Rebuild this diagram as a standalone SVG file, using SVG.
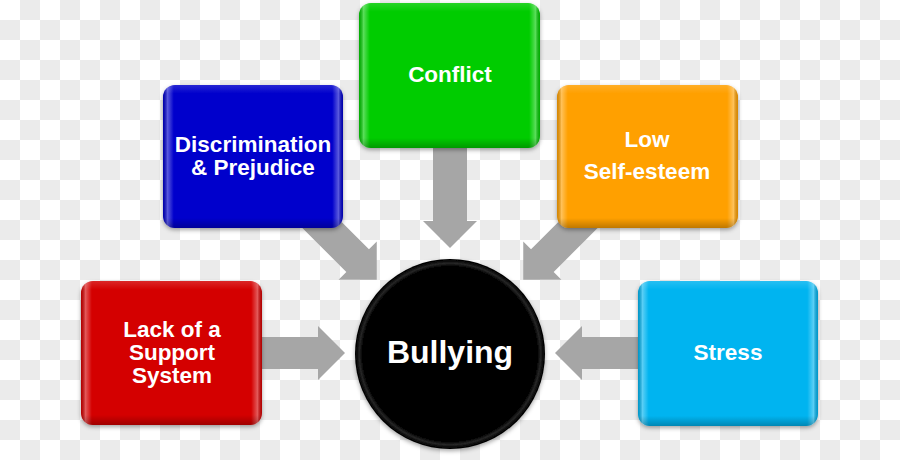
<svg xmlns="http://www.w3.org/2000/svg" width="900" height="460" viewBox="0 0 900 460">
<defs>
<pattern id="checker" x="0" y="0" width="40" height="40" patternUnits="userSpaceOnUse">
<rect width="40" height="40" fill="#ffffff"/>
<rect x="20" y="0" width="20" height="20" fill="#ebebeb"/>
<rect x="0" y="20" width="20" height="20" fill="#ebebeb"/>
</pattern>
<linearGradient id="bevel" x1="0" y1="0" x2="1" y2="0">
<stop offset="0" stop-color="#000" stop-opacity="0.15"/>
<stop offset="0.025" stop-color="#fff" stop-opacity="0.35"/>
<stop offset="0.06" stop-color="#fff" stop-opacity="0"/>
<stop offset="0.94" stop-color="#fff" stop-opacity="0"/>
<stop offset="0.975" stop-color="#fff" stop-opacity="0.35"/>
<stop offset="1" stop-color="#000" stop-opacity="0.15"/>
</linearGradient>
<linearGradient id="vbevel" x1="0" y1="0" x2="0" y2="1">
<stop offset="0" stop-color="#fff" stop-opacity="0.15"/>
<stop offset="0.06" stop-color="#fff" stop-opacity="0"/>
<stop offset="0.93" stop-color="#000" stop-opacity="0"/>
<stop offset="1" stop-color="#000" stop-opacity="0.25"/>
</linearGradient>
<radialGradient id="ball" cx="0.5" cy="0.5" r="0.5">
<stop offset="0.92" stop-color="#000"/>
<stop offset="0.955" stop-color="#262626"/>
<stop offset="0.98" stop-color="#0a0a0a"/>
<stop offset="1" stop-color="#000"/>
</radialGradient>
<filter id="shadow" x="-10%" y="-10%" width="120%" height="125%">
<feDropShadow dx="0" dy="2" stdDeviation="2" flood-color="#000" flood-opacity="0.35"/>
</filter>
</defs>
<style>
.arrow { fill: #a6a6a6; }
.box { filter: url(#shadow); }
.bev { fill: url(#bevel); }
.vbev { fill: url(#vbevel); }
.lbl { font-family: "Liberation Sans", Arial, sans-serif; font-weight: bold; font-size: 22.5px; fill: #ffffff; text-anchor: middle; }
.big { font-size: 32px; }
</style>
<rect width="900" height="460" fill="url(#checker)"/>
<g id="connectors">
<path class="arrow" d="M171,337 H318 V326 L345,353 L318,380 V369 H171 Z"/>
<path class="arrow" d="M728,337 H582 V326 L555,353 L582,380 V369 H728 Z"/>
<path class="arrow" d="M433,75 V221 H423 L450,248 L477,221 H467 V75 Z"/>
<path class="arrow" transform="translate(253,156) rotate(45)" d="M0,-16 H148 V-27 L175,0 L148,27 V16 H0 Z"/>
<path class="arrow" transform="translate(647,156) rotate(135)" d="M0,-16 H148 V-27 L175,0 L148,27 V16 H0 Z"/>
</g>
<g id="node-discrimination">
<g class="box"><rect x="163" y="85" width="180" height="143" rx="12" fill="#0505cc"/></g>
<rect x="163" y="85" width="180" height="143" rx="12" class="bev"/>
<rect x="163" y="85" width="180" height="143" rx="12" class="vbev"/>
<text class="lbl" x="253" y="152">Discrimination</text>
<text class="lbl" x="253" y="175">&amp; Prejudice</text>
</g>
<g id="node-conflict">
<g class="box"><rect x="359" y="3" width="181" height="145" rx="12" fill="#00cc00"/></g>
<rect x="359" y="3" width="181" height="145" rx="12" class="bev"/>
<rect x="359" y="3" width="181" height="145" rx="12" class="vbev"/>
<text class="lbl" x="450" y="82">Conflict</text>
</g>
<g id="node-self-esteem">
<g class="box"><rect x="557" y="85" width="181" height="143" rx="12" fill="#ffa000"/></g>
<rect x="557" y="85" width="181" height="143" rx="12" class="bev"/>
<rect x="557" y="85" width="181" height="143" rx="12" class="vbev"/>
<text class="lbl" x="647" y="147">Low</text>
<text class="lbl" x="647" y="179">Self-esteem</text>
</g>
<g id="node-support">
<g class="box"><rect x="81" y="281" width="181" height="144" rx="12" fill="#d40000"/></g>
<rect x="81" y="281" width="181" height="144" rx="12" class="bev"/>
<rect x="81" y="281" width="181" height="144" rx="12" class="vbev"/>
<text class="lbl" x="172" y="337">Lack of a</text>
<text class="lbl" x="172" y="360">Support</text>
<text class="lbl" x="172" y="383">System</text>
</g>
<g id="node-stress">
<g class="box"><rect x="638" y="281" width="180" height="145" rx="12" fill="#00b4f0"/></g>
<rect x="638" y="281" width="180" height="145" rx="12" class="bev"/>
<rect x="638" y="281" width="180" height="145" rx="12" class="vbev"/>
<text class="lbl" x="728" y="360">Stress</text>
</g>
<g id="node-bullying">
<circle cx="450" cy="354" r="95" fill="url(#ball)" class="box"/>
<text class="lbl big" x="450" y="363">Bullying</text>
</g>
</svg>
